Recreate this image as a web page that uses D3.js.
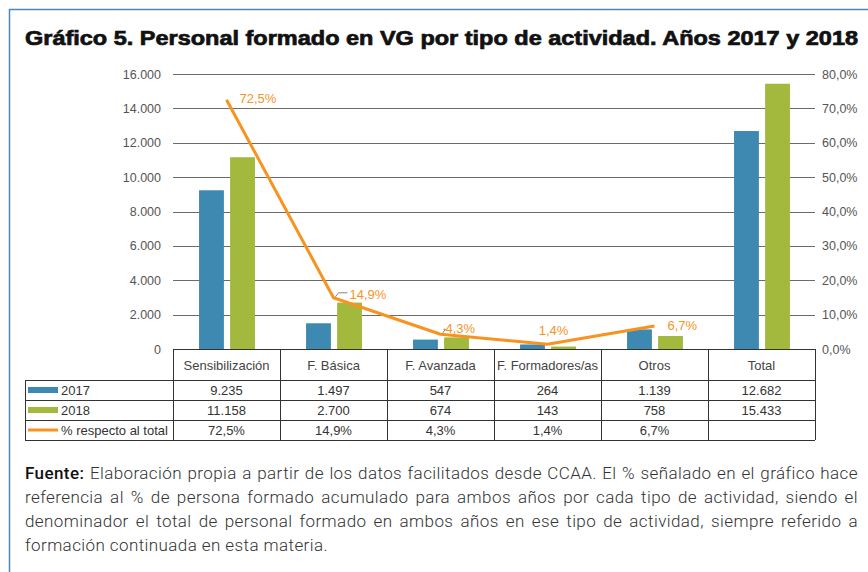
<!DOCTYPE html>
<html>
<head>
<meta charset="utf-8">
<script src="https://cdn.jsdelivr.net/npm/d3@7"></script>
<style>
  html, body { margin: 0; padding: 0; background: #fff; }
  svg { display: block; font-family: "Liberation Sans", Arial, sans-serif; }
</style>
</head>
<body>
<svg id="chart" width="868" height="572"></svg>
<script>
// data
const categories = ["Sensibilización", "F. Básica", "F. Avanzada", "F. Formadores/as", "Otros", "Total"];
const years = ["2017", "2018"];
const values2017 = [9235, 1497, 547, 264, 1139, 12682];
const values2018 = [11158, 2700, 674, 143, 758, 15433];
const pctTotal = [72.5, 14.9, 4.3, 1.4, 6.7, null];
const leftTicks = [0, 2000, 4000, 6000, 8000, 10000, 12000, 14000, 16000];
const rightTicks = [0, 10, 20, 30, 40, 50, 60, 70, 80];
const footLines = [
    "Elaboración propia a partir de los datos facilitados desde CCAA. El % señalado en el gráfico hace",
    "referencia al % de persona formado acumulado para ambos años por cada tipo de actividad, siendo el",
    "denominador el total de personal formado en ambos años en ese tipo de actividad, siempre referido a",
    "formación continuada en esta materia."
];

const colors = { "2017": "#3d89b1", "2018": "#a3b93e", pct: "#f7931e" };
// label placement for the % line (dx, dy from the point, leader?)
const pctLabelStyle = [
    { dx: 13, dy: 3, anchor: "start", leader: false },
    { dx: 16, dy: 1, anchor: "start", leader: true },
    { dx: 5, dy: -1, anchor: "start", leader: true },
    { dx: 6, dy: -9, anchor: "middle", leader: false },
    { dx: 13, dy: 4, anchor: "start", leader: false }
];

const es = d3.formatLocale({ decimal: ",", thousands: ".", grouping: [3], currency: ["", " €"] });
const fmtInt = es.format(",d");
const fmtPct1 = es.format(".1f");

const svg = d3.select("#chart");

// frame
svg.append("line").attr("x1", 9).attr("x2", 868).attr("y1", 9.5).attr("y2", 9.5)
    .attr("stroke", "#4d86b3").attr("stroke-width", 1.5);
svg.append("line").attr("x1", 9.5).attr("x2", 9.5).attr("y1", 9).attr("y2", 572)
    .attr("stroke", "#4d86b3").attr("stroke-width", 1.5);

// title
svg.append("text")
    .attr("x", 25).attr("y", 45)
    .attr("font-size", 20).attr("font-weight", "bold").attr("fill", "#111")
    .attr("stroke", "#111").attr("stroke-width", 0.7)
    .attr("textLength", 833).attr("lengthAdjust", "spacingAndGlyphs")
    .text("Gráfico 5. Personal formado en VG por tipo de actividad. Años 2017 y 2018");

const plot = { left: 173, right: 815, top: 74, bottom: 349 };

const x = d3.scaleBand().domain(categories).range([plot.left, plot.right]).padding(0);
const yL = d3.scaleLinear().domain([0, 16000]).range([plot.bottom, plot.top]);
const yR = d3.scaleLinear().domain([0, 80]).range([plot.bottom, plot.top]);

// gridlines
svg.append("g").selectAll("line")
    .data(leftTicks.filter(d => d > 0))
    .join("line")
    .attr("x1", plot.left).attr("x2", plot.right)
    .attr("y1", d => Math.round(yL(d)) + 0.5).attr("y2", d => Math.round(yL(d)) + 0.5)
    .attr("stroke", "#6b6b6b").attr("stroke-width", 1);

// left axis labels
svg.append("g").selectAll("text")
    .data(leftTicks)
    .join("text")
    .attr("x", 161).attr("y", d => yL(d) + 4.5)
    .attr("text-anchor", "end").attr("font-size", 12.5).attr("fill", "#555")
    .text(d => fmtInt(d));

// right axis labels
svg.append("g").selectAll("text")
    .data(rightTicks)
    .join("text")
    .attr("x", 822).attr("y", d => yR(d) + 4.5)
    .attr("text-anchor", "start").attr("font-size", 12.5).attr("fill", "#555")
    .text(d => fmtPct1(d) + "%");

// bars
const xIn = d3.scaleBand().domain(years).range([-29, 30]).paddingInner(0.2).paddingOuter(0.05);
const barRows = categories.map((c, i) => ({ cat: c, vals: [values2017[i], values2018[i]] }));
const groups = svg.append("g").selectAll("g")
    .data(barRows)
    .join("g")
    .attr("transform", d => `translate(${x(d.cat) + x.bandwidth() / 2},0)`);
groups.selectAll("rect")
    .data(d => d.vals.map((v, j) => ({ year: years[j], v })))
    .join("rect")
    .attr("x", d => xIn(d.year))
    .attr("width", xIn.bandwidth())
    .attr("y", d => yL(d.v))
    .attr("height", d => plot.bottom - yL(d.v))
    .attr("fill", d => colors[d.year]);

// % line
const pctPts = pctTotal.map((p, i) => ({ cat: categories[i], p, i })).filter(d => d.p !== null);
const cx = d => x(d.cat) + x.bandwidth() / 2;
svg.append("path")
    .datum(pctPts)
    .attr("fill", "none").attr("stroke", colors.pct).attr("stroke-width", 3)
    .attr("stroke-linejoin", "round")
    .attr("d", d3.line().x(cx).y(d => yR(d.p)));

// leaders and labels
const lab = svg.append("g");
pctPts.forEach(d => {
    const s = pctLabelStyle[d.i];
    const px = cx(d), py = yR(d.p);
    if (s.leader) {
        lab.append("path")
            .attr("d", `M${px + 2},${py - 1} L${px + 5},${py - 5} L${px + s.dx - 2},${py - 5}`)
            .attr("fill", "none").attr("stroke", "#888").attr("stroke-width", 1);
    }
    lab.append("text")
        .attr("x", px + s.dx).attr("y", py + s.dy)
        .attr("text-anchor", s.anchor)
        .attr("font-size", 13).attr("fill", colors.pct)
        .text(fmtPct1(d.p) + "%");
});

// table
const tbl = svg.append("g");
const rowsY = [349, 380, 400, 420, 440];
const lineCol = "#333";
// horizontal lines
tbl.append("line").attr("x1", plot.left).attr("x2", plot.right)
    .attr("y1", rowsY[0] + 0.5).attr("y2", rowsY[0] + 0.5).attr("stroke", lineCol);
[rowsY[1], rowsY[2], rowsY[3], rowsY[4]].forEach(yy => {
    tbl.append("line").attr("x1", 25).attr("x2", plot.right)
        .attr("y1", yy + 0.5).attr("y2", yy + 0.5).attr("stroke", lineCol);
});
// vertical lines
const colEdges = categories.map(c => x(c)).concat([plot.right]);
colEdges.forEach(xx => {
    tbl.append("line").attr("x1", Math.round(xx) + 0.5).attr("x2", Math.round(xx) + 0.5)
        .attr("y1", rowsY[0]).attr("y2", rowsY[4]).attr("stroke", lineCol);
});
tbl.append("line").attr("x1", 25.5).attr("x2", 25.5)
    .attr("y1", rowsY[1]).attr("y2", rowsY[4]).attr("stroke", lineCol);

// header
tbl.selectAll("text.hdr")
    .data(categories)
    .join("text")
    .attr("class", "hdr")
    .attr("x", d => x(d) + x.bandwidth() / 2).attr("y", 369.5)
    .attr("text-anchor", "middle").attr("font-size", 13).attr("fill", "#444")
    .text(d => d);

const tableRows = [
    { key: "2017", label: "2017", vals: values2017.map(v => fmtInt(v)) },
    { key: "2018", label: "2018", vals: values2018.map(v => fmtInt(v)) },
    { key: "pct", label: "% respecto al total", vals: pctTotal.map(p => p === null ? "" : fmtPct1(p) + "%") }
];
tableRows.forEach((r, ri) => {
    const top = rowsY[ri + 1];
    const mid = top + 10;
    if (r.key === "pct") {
        tbl.append("line").attr("x1", 28).attr("x2", 58).attr("y1", mid).attr("y2", mid)
            .attr("stroke", colors.pct).attr("stroke-width", 3);
    } else {
        tbl.append("rect").attr("x", 28).attr("y", mid - 3).attr("width", 30).attr("height", 6)
            .attr("fill", colors[r.key]);
    }
    tbl.append("text").attr("x", 61).attr("y", mid + 5)
        .attr("font-size", 13).attr("fill", "#333").text(r.label);
    r.vals.forEach((v, ci) => {
        tbl.append("text")
            .attr("x", x(categories[ci]) + x.bandwidth() / 2).attr("y", mid + 5)
            .attr("text-anchor", "middle").attr("font-size", 13).attr("fill", "#333")
            .text(v);
    });
});

// footer: letter spacing tuned so the short last line matches, then justify with word spacing
const foot = svg.append("g")
    .style("font-family", "Roboto, 'Liberation Sans', sans-serif")
    .style("font-size", "17px").attr("fill", "#333");
const baseY = [479, 503, 527, 551];
const fullW = 833, lastW = 303;
const texts = footLines.map((ln, i) => {
    const t = foot.append("text").attr("x", 25).attr("y", baseY[i]).style("font-weight", 300);
    if (i === 0) {
        t.append("tspan").style("font-weight", 500).attr("fill", "#111").text("Fuente: ");
        t.append("tspan").text(ln);
    } else {
        t.text(ln);
    }
    return t;
});
const lastLn = footLines[footLines.length - 1];
const ls = (lastW - texts[texts.length - 1].node().getComputedTextLength()) / lastLn.length;
texts.forEach((t, i) => {
    t.style("letter-spacing", ls + "px");
    if (i < footLines.length - 1) {
        const w = t.node().getComputedTextLength();
        const spaces = ((i === 0 ? "Fuente: " : "") + footLines[i]).split(" ").length - 1;
        t.style("word-spacing", Math.max(0, (fullW - w) / spaces) + "px");
    }
});
</script>
</body>
</html>
